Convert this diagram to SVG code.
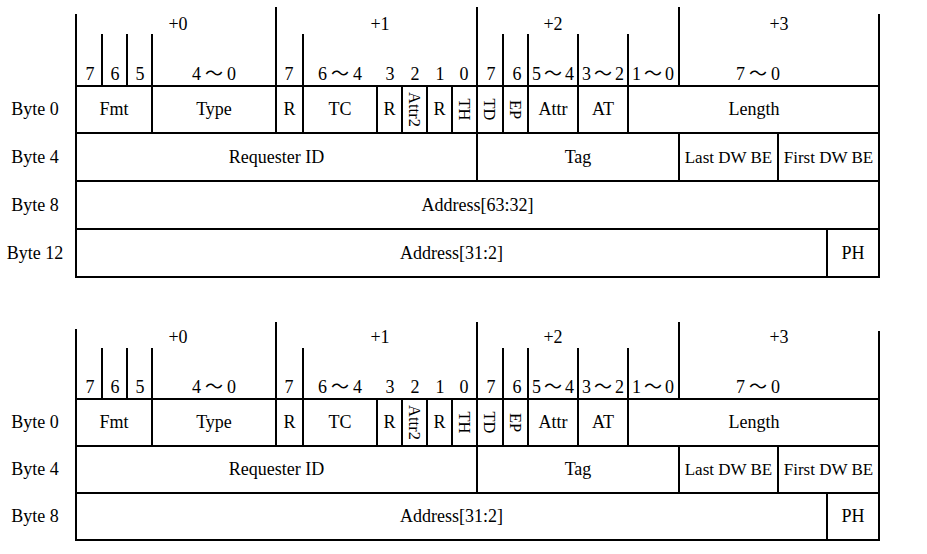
<svg xmlns="http://www.w3.org/2000/svg" width="927" height="554" viewBox="0 0 927 554">
<style>
  .ln{stroke:#000;stroke-width:2;fill:none;stroke-linecap:square}
  text{font-family:"Liberation Serif","Noto Sans CJK SC",serif;font-size:18px;fill:#000;text-anchor:middle}
  .v{font-size:16.5px}
  .s{font-size:17px}
</style>
<rect width="927" height="554" fill="#fff"/>

<!-- ===================== Diagram 1 ===================== -->
<g id="diagram1">
  <g id="d1-lines">
    <path class="ln" d="M76,15 V277 M879,15 V277"/>
    <path class="ln" d="M276,8 V133 M477,8 V181 M679,8 V86 M679,133 V181"/>
    <path class="ln" d="M102,35 V86 M127,35 V86 M152,35 V133 M303,35 V133 M503,35 V133 M528,35 V133 M578,35 V133 M628,35 V133"/>
    <path class="ln" d="M377,86 V133 M402,86 V133 M427,86 V133 M452,86 V133"/>
    <path class="ln" d="M778,133 V181"/>
    <path class="ln" d="M827,229 V277"/>
    <path class="ln" d="M76,86 H879 M76,133 H879 M76,181 H879 M76,229 H879 M76,277 H879"/>
  </g>
  <g id="d1-header">
    <text x="178" y="30">+0</text>
    <text x="380" y="30">+1</text>
    <text x="553" y="30">+2</text>
    <text x="779" y="30">+3</text>
    <text x="90" y="80">7</text>
    <text x="115" y="80">6</text>
    <text x="140" y="80">5</text>
    <text x="214" y="80">4<tspan dx="4">～</tspan><tspan dx="4">0</tspan></text>
    <text x="289" y="80">7</text>
    <text x="340" y="80">6<tspan dx="4">～</tspan><tspan dx="4">4</tspan></text>
    <text x="390" y="80">3</text>
    <text x="415" y="80">2</text>
    <text x="440" y="80">1</text>
    <text x="464" y="80">0</text>
    <text x="491" y="80">7</text>
    <text x="517" y="80">6</text>
    <text x="553" y="80">5<tspan dx="3">～</tspan><tspan dx="3">4</tspan></text>
    <text x="603" y="80">3<tspan dx="3">～</tspan><tspan dx="3">2</tspan></text>
    <text x="653" y="80">1<tspan dx="3">～</tspan><tspan dx="3">0</tspan></text>
    <text x="758" y="80">7<tspan dx="4">～</tspan><tspan dx="4">0</tspan></text>
  </g>
  <g id="d1-rowlabels">
    <text x="35" y="115">Byte 0</text>
    <text x="35" y="163">Byte 4</text>
    <text x="35" y="211">Byte 8</text>
    <text x="35" y="259">Byte 12</text>
  </g>
  <g id="d1-byte0">
    <text x="114" y="115">Fmt</text>
    <text x="214" y="115">Type</text>
    <text x="289.5" y="115">R</text>
    <text x="340" y="115">TC</text>
    <text x="389.5" y="115">R</text>
    <text class="v" transform="translate(414.5,109.5) rotate(90)" dy="0.35em">Attr2</text>
    <text x="439.5" y="115">R</text>
    <text class="v" transform="translate(464.5,109.5) rotate(90)" dy="0.35em">TH</text>
    <text class="v" transform="translate(490,109.5) rotate(90)" dy="0.35em">TD</text>
    <text class="v" transform="translate(515.5,109.5) rotate(90)" dy="0.35em">EP</text>
    <text x="553" y="115">Attr</text>
    <text x="603" y="115">AT</text>
    <text x="754" y="115">Length</text>
  </g>
  <g id="d1-byte4">
    <text x="276.5" y="163">Requester ID</text>
    <text x="578" y="163">Tag</text>
    <text class="s" x="728.5" y="163">Last DW BE</text>
    <text class="s" x="828.5" y="163">First DW BE</text>
  </g>
  <g id="d1-byte8">
    <text x="477.5" y="211">Address[63:32]</text>
  </g>
  <g id="d1-byte12">
    <text x="451.5" y="259">Address[31:2]</text>
    <text x="853" y="259">PH</text>
  </g>
</g>

<!-- ===================== Diagram 2 ===================== -->
<g id="diagram2" transform="translate(0,313)">
  <g id="d2-lines">
    <path class="ln" d="M76,17 V227 M879,19 V227"/>
    <path class="ln" d="M276,10 V133 M477,10 V180 M679,10 V86 M679,133 V180"/>
    <path class="ln" d="M102,36 V86 M127,36 V86 M152,36 V133 M303,36 V133 M503,36 V133 M528,36 V133 M578,36 V133 M628,36 V133"/>
    <path class="ln" d="M377,86 V133 M402,86 V133 M427,86 V133 M452,86 V133"/>
    <path class="ln" d="M778,133 V180"/>
    <path class="ln" d="M827,180 V227"/>
    <path class="ln" d="M76,86 H879 M76,133 H879 M76,180 H879 M76,227 H879"/>
  </g>
  <g id="d2-header">
    <text x="178" y="30">+0</text>
    <text x="380" y="30">+1</text>
    <text x="553" y="30">+2</text>
    <text x="779" y="30">+3</text>
    <text x="90" y="80">7</text>
    <text x="115" y="80">6</text>
    <text x="140" y="80">5</text>
    <text x="214" y="80">4<tspan dx="4">～</tspan><tspan dx="4">0</tspan></text>
    <text x="289" y="80">7</text>
    <text x="340" y="80">6<tspan dx="4">～</tspan><tspan dx="4">4</tspan></text>
    <text x="390" y="80">3</text>
    <text x="415" y="80">2</text>
    <text x="440" y="80">1</text>
    <text x="464" y="80">0</text>
    <text x="491" y="80">7</text>
    <text x="517" y="80">6</text>
    <text x="553" y="80">5<tspan dx="3">～</tspan><tspan dx="3">4</tspan></text>
    <text x="603" y="80">3<tspan dx="3">～</tspan><tspan dx="3">2</tspan></text>
    <text x="653" y="80">1<tspan dx="3">～</tspan><tspan dx="3">0</tspan></text>
    <text x="758" y="80">7<tspan dx="4">～</tspan><tspan dx="4">0</tspan></text>
  </g>
  <g id="d2-rowlabels">
    <text x="35" y="115">Byte 0</text>
    <text x="35" y="162">Byte 4</text>
    <text x="35" y="209">Byte 8</text>
  </g>
  <g id="d2-byte0">
    <text x="114" y="115">Fmt</text>
    <text x="214" y="115">Type</text>
    <text x="289.5" y="115">R</text>
    <text x="340" y="115">TC</text>
    <text x="389.5" y="115">R</text>
    <text class="v" transform="translate(414.5,109.5) rotate(90)" dy="0.35em">Attr2</text>
    <text x="439.5" y="115">R</text>
    <text class="v" transform="translate(464.5,109.5) rotate(90)" dy="0.35em">TH</text>
    <text class="v" transform="translate(490,109.5) rotate(90)" dy="0.35em">TD</text>
    <text class="v" transform="translate(515.5,109.5) rotate(90)" dy="0.35em">EP</text>
    <text x="553" y="115">Attr</text>
    <text x="603" y="115">AT</text>
    <text x="754" y="115">Length</text>
  </g>
  <g id="d2-byte4">
    <text x="276.5" y="162">Requester ID</text>
    <text x="578" y="162">Tag</text>
    <text class="s" x="728.5" y="162">Last DW BE</text>
    <text class="s" x="828.5" y="162">First DW BE</text>
  </g>
  <g id="d2-byte8">
    <text x="451.5" y="209">Address[31:2]</text>
    <text x="853" y="209">PH</text>
  </g>
</g>
</svg>
